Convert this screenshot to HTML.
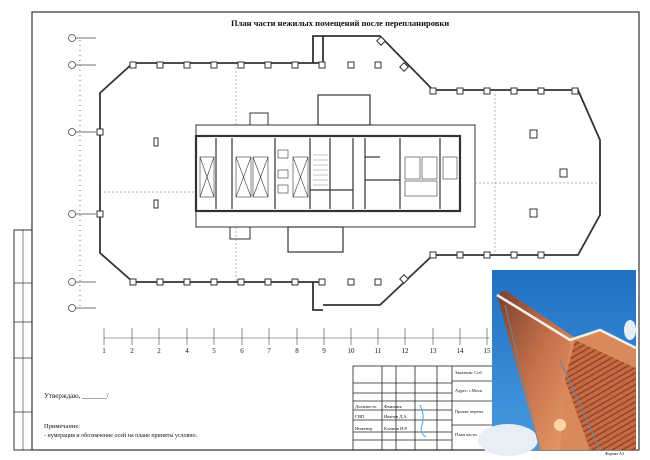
<!DOCTYPE html>
<html><head><meta charset="utf-8"><style>
html,body{margin:0;padding:0;background:#fff;width:650px;height:460px;overflow:hidden}
svg{display:block}
text{font-family:"Liberation Serif","Noto Serif CJK SC",serif;fill:#111}
</style></head><body>
<svg width="650" height="460" viewBox="0 0 650 460" xmlns="http://www.w3.org/2000/svg">
<defs>
<linearGradient id="sky" x1="0" y1="0" x2="0" y2="1"><stop offset="0" stop-color="#1f6fc4"/><stop offset="1" stop-color="#4a9ae0"/></linearGradient>
<linearGradient id="cu" x1="0" y1="0" x2="1" y2="1"><stop offset="0" stop-color="#7a4030"/><stop offset="0.5" stop-color="#c8734a"/><stop offset="1" stop-color="#e9a070"/></linearGradient>
<pattern id="stripe" width="5" height="5" patternUnits="userSpaceOnUse" patternTransform="rotate(60)"><rect width="5" height="5" fill="#c76a40"/><rect width="1.5" height="5" fill="#8e4530"/></pattern>
</defs>
<rect x="32" y="12" width="607" height="438" fill="none" stroke="#333" stroke-width="1.2"/>
<rect x="14" y="230" width="18" height="220" fill="none" stroke="#333" stroke-width="1"/>
<line x1="23" y1="230" x2="23" y2="450" stroke="#333" stroke-width="0.6"/>
<g stroke="#333" stroke-width="0.8"><line x1="14" y1="283" x2="32" y2="283"/><line x1="14" y1="322" x2="32" y2="322"/><line x1="14" y1="358" x2="32" y2="358"/><line x1="14" y1="412" x2="32" y2="412"/></g>
<text x="231" y="26" font-size="8.5" font-weight="bold">План части нежилых помещений после перепланировки</text>
<g stroke="#444" stroke-width="0.8" fill="none">
<circle cx="72" cy="38" r="3.5"/><circle cx="72" cy="65" r="3.5"/><circle cx="72" cy="132" r="3.5"/><circle cx="72" cy="214" r="3.5"/><circle cx="72" cy="282" r="3.5"/><circle cx="72" cy="308" r="3.5"/>
<line x1="76" y1="38" x2="96" y2="38"/><line x1="76" y1="65" x2="96" y2="65"/><line x1="76" y1="132" x2="96" y2="132"/><line x1="76" y1="214" x2="96" y2="214"/><line x1="76" y1="282" x2="96" y2="282"/><line x1="76" y1="308" x2="96" y2="308"/>
<line x1="80" y1="40" x2="80" y2="306" stroke-dasharray="1 4"/>
</g>
<g stroke="#333" stroke-width="1.8" fill="none">
<polyline points="323,63 133,63 100,93 100,253 133,282 323,282"/>
<polyline points="313,63 313,36 323,36 323,63"/>
<polyline points="323,36 380,36 433,90 578,90 600,140 600,215 578,255 433,255 380,305 323,305"/>
<polyline points="313,282 313,310 323,310"/>
</g>
<g fill="#fff" stroke="#333" stroke-width="1">
<rect x="130" y="62" width="6" height="6"/><rect x="157" y="62" width="6" height="6"/><rect x="184" y="62" width="6" height="6"/><rect x="211" y="62" width="6" height="6"/><rect x="238" y="62" width="6" height="6"/><rect x="265" y="62" width="6" height="6"/><rect x="292" y="62" width="6" height="6"/><rect x="319" y="62" width="6" height="6"/><rect x="348" y="62" width="6" height="6"/><rect x="375" y="62" width="6" height="6"/>
<rect x="130" y="279" width="6" height="6"/><rect x="157" y="279" width="6" height="6"/><rect x="184" y="279" width="6" height="6"/><rect x="211" y="279" width="6" height="6"/><rect x="238" y="279" width="6" height="6"/><rect x="265" y="279" width="6" height="6"/><rect x="292" y="279" width="6" height="6"/><rect x="319" y="279" width="6" height="6"/><rect x="348" y="279" width="6" height="6"/><rect x="375" y="279" width="6" height="6"/>
<rect x="430" y="88" width="6" height="6"/><rect x="457" y="88" width="6" height="6"/><rect x="484" y="88" width="6" height="6"/><rect x="511" y="88" width="6" height="6"/><rect x="538" y="88" width="6" height="6"/><rect x="572" y="88" width="6" height="6"/>
<rect x="430" y="252" width="6" height="6"/><rect x="457" y="252" width="6" height="6"/><rect x="484" y="252" width="6" height="6"/><rect x="511" y="252" width="6" height="6"/><rect x="538" y="252" width="6" height="6"/>
<rect x="97" y="129" width="6" height="6"/><rect x="97" y="211" width="6" height="6"/>
<rect x="154" y="138" width="4" height="8"/><rect x="154" y="200" width="4" height="8"/>
<rect x="530" y="130" width="7" height="8"/><rect x="560" y="169" width="7" height="8"/><rect x="530" y="209" width="7" height="8"/>
<rect x="378" y="38" width="6" height="6" transform="rotate(45 381 41)"/><rect x="401" y="64" width="6" height="6" transform="rotate(45 404 67)"/>
<rect x="401" y="276" width="6" height="6" transform="rotate(45 404 279)"/>
</g>
<g stroke="#333" fill="none">
<rect x="196" y="125" width="279" height="102" stroke-width="1" />
<rect x="196" y="136" width="264" height="75" stroke-width="2.2"/>
<rect x="318" y="95" width="52" height="30" stroke-width="1.2"/>
<rect x="288" y="227" width="55" height="25" stroke-width="1.2"/>
<rect x="250" y="113" width="18" height="12" stroke-width="1"/>
<rect x="230" y="227" width="20" height="12" stroke-width="1"/>
<g stroke-width="1.2">
<line x1="216" y1="138" x2="216" y2="209"/><line x1="232" y1="138" x2="232" y2="209"/><line x1="275" y1="138" x2="275" y2="209"/><line x1="310" y1="138" x2="310" y2="209"/><line x1="330" y1="138" x2="330" y2="209"/><line x1="353" y1="138" x2="353" y2="209"/><line x1="365" y1="138" x2="365" y2="209"/><line x1="400" y1="138" x2="400" y2="209"/><line x1="440" y1="138" x2="440" y2="209"/>
<line x1="310" y1="190" x2="353" y2="190"/><line x1="365" y1="180" x2="400" y2="180"/><line x1="365" y1="157" x2="380" y2="157"/>
</g>
<g stroke-width="0.6">
<rect x="200" y="157" width="14" height="40"/><rect x="236" y="157" width="15" height="40"/><rect x="253" y="157" width="15" height="40"/><rect x="293" y="157" width="15" height="40"/><rect x="405" y="157" width="15" height="22"/><rect x="422" y="157" width="15" height="22"/><rect x="443" y="157" width="14" height="22"/><rect x="405" y="181" width="32" height="15"/>
<rect x="278" y="150" width="10" height="8"/><rect x="278" y="170" width="10" height="8"/><rect x="278" y="185" width="10" height="8"/>
<line x1="200" y1="157" x2="214" y2="197"/><line x1="214" y1="157" x2="200" y2="197"/><line x1="236" y1="157" x2="251" y2="197"/><line x1="251" y1="157" x2="236" y2="197"/><line x1="253" y1="157" x2="268" y2="197"/><line x1="268" y1="157" x2="253" y2="197"/><line x1="293" y1="157" x2="308" y2="197"/><line x1="308" y1="157" x2="293" y2="197"/>
</g>
<g stroke="#888" stroke-width="0.5"><line x1="313" y1="155" x2="328" y2="155"/><line x1="313" y1="160" x2="328" y2="160"/><line x1="313" y1="165" x2="328" y2="165"/><line x1="313" y1="170" x2="328" y2="170"/><line x1="313" y1="175" x2="328" y2="175"/><line x1="313" y1="180" x2="328" y2="180"/><line x1="313" y1="185" x2="328" y2="185"/></g>
<g stroke="#666" stroke-width="0.5" stroke-dasharray="2 2">
<line x1="100" y1="192" x2="196" y2="192"/><line x1="475" y1="183" x2="600" y2="183"/><line x1="236" y1="63" x2="236" y2="125"/><line x1="236" y1="227" x2="236" y2="282"/><line x1="495" y1="94" x2="495" y2="252"/>
</g>
</g>
<g stroke="#444" stroke-width="0.6" fill="none">
<line x1="104" y1="338" x2="490" y2="338"/>
<line x1="104" y1="328" x2="104" y2="345"/><line x1="132" y1="328" x2="132" y2="345"/><line x1="159" y1="328" x2="159" y2="345"/><line x1="187" y1="328" x2="187" y2="345"/><line x1="214" y1="328" x2="214" y2="345"/><line x1="242" y1="328" x2="242" y2="345"/><line x1="269" y1="328" x2="269" y2="345"/><line x1="297" y1="328" x2="297" y2="345"/><line x1="324" y1="328" x2="324" y2="345"/><line x1="351" y1="328" x2="351" y2="345"/><line x1="378" y1="328" x2="378" y2="345"/><line x1="405" y1="328" x2="405" y2="345"/><line x1="433" y1="328" x2="433" y2="345"/><line x1="460" y1="328" x2="460" y2="345"/><line x1="487" y1="328" x2="487" y2="345"/>
</g>
<g font-size="7" text-anchor="middle">
<text x="104" y="353">1</text><text x="132" y="353">2</text><text x="159" y="353">2</text><text x="187" y="353">4</text><text x="214" y="353">5</text><text x="242" y="353">6</text><text x="269" y="353">7</text><text x="297" y="353">8</text><text x="324" y="353">9</text><text x="351" y="353">10</text><text x="378" y="353">11</text><text x="405" y="353">12</text><text x="433" y="353">13</text><text x="460" y="353">14</text><text x="487" y="353">15</text>
</g>
<text x="44" y="398" font-size="7">Утверждаю, _______/</text>
<text x="44" y="428" font-size="6.5">Примечание:</text>
<text x="44" y="437" font-size="6">- нумерация и обозначение осей на плане приняты условно.</text>
<g stroke="#222" stroke-width="0.8" fill="none">
<rect x="353" y="366" width="140" height="84"/>
<line x1="382" y1="366" x2="382" y2="450"/><line x1="396" y1="366" x2="396" y2="450"/><line x1="415" y1="366" x2="415" y2="450"/><line x1="437" y1="366" x2="437" y2="450"/><line x1="452" y1="366" x2="452" y2="450"/>
<line x1="353" y1="383" x2="452" y2="383"/><line x1="353" y1="393" x2="452" y2="393"/><line x1="353" y1="401" x2="493" y2="401"/><line x1="353" y1="410" x2="452" y2="410"/><line x1="353" y1="420" x2="452" y2="420"/><line x1="353" y1="432" x2="452" y2="432"/><line x1="353" y1="440" x2="452" y2="440"/>
<line x1="452" y1="381" x2="493" y2="381"/><line x1="452" y1="425" x2="493" y2="425"/>
</g>
<g font-size="4.5">
<text x="455" y="374">Заказчик: Соб</text><text x="455" y="392">Адрес: г.Моск</text><text x="455" y="413">Проект перепл</text><text x="455" y="436">План части</text>
<text x="355" y="408">Должность</text><text x="384" y="408">Фамилия</text><text x="355" y="418">ГИП</text><text x="384" y="418">Иванов Д.А.</text><text x="355" y="430">Инженер</text><text x="384" y="430">Климов И.Р.</text>
</g>
<path d="M420,405 q5,10 2,20 q-3,8 4,12" stroke="#4ab0e0" stroke-width="1" fill="none"/>
<rect x="492" y="270" width="144" height="180" fill="url(#sky)"/>
<ellipse cx="508" cy="440" rx="30" ry="16" fill="#e8eef5"/>
<ellipse cx="630" cy="330" rx="6" ry="10" fill="#e8eef5"/>
<polygon points="497,295 505,290 575,338 560,450 540,450" fill="url(#cu)"/>
<polygon points="570,338 600,330 636,348 636,450 560,450" fill="#d88a5a"/>
<polygon points="575,340 636,368 636,450 590,450 565,380" fill="url(#stripe)"/>
<polyline points="497,295 570,340 600,330 636,348" stroke="#f4efe8" stroke-width="2.5" fill="none"/>
<polyline points="505,305 540,450" stroke="#6a8aa0" stroke-width="1" fill="none"/>
<polyline points="560,360 600,450" stroke="#6a8aa0" stroke-width="1" fill="none"/>
<circle cx="560" cy="425" r="6" fill="#ffe9b0" opacity="0.8"/>
<text x="605" y="455" font-size="4">Формат А3</text>
</svg>
</body></html>
